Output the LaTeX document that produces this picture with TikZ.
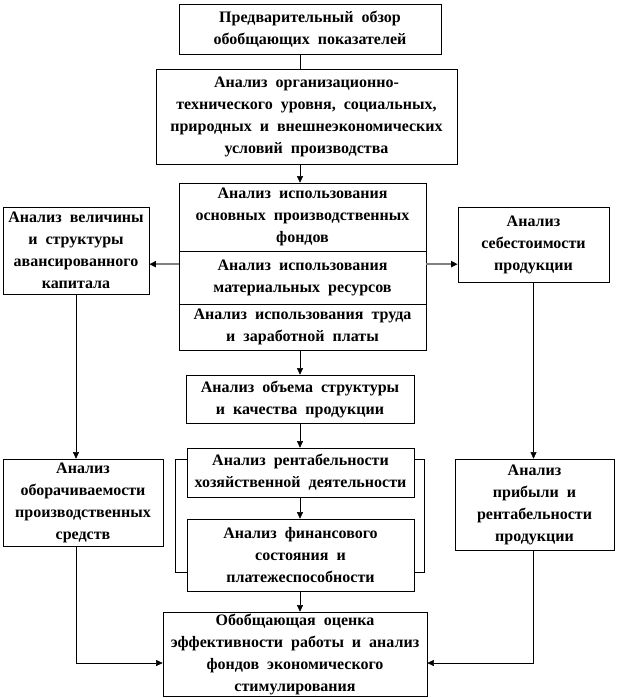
\documentclass[tikz,border=0pt]{standalone}
\usepackage{fontspec}
\setmainfont{Liberation Serif}
\usetikzlibrary{arrows.meta}
\newcommand\boxfont{\fontsize{12}{16.5}\selectfont\bfseries\spaceskip=0.5em plus 0.1em\relax}

\begin{document}
\begin{tikzpicture}[x=0.75pt, y=-0.75pt,
  box/.style={draw=black, fill=white, align=center, inner sep=0pt, font=\boxfont},
  arr/.style={-{Triangle[length=5pt,width=4.5pt]}, thin},
  side/.style={draw=gray, line width=1.3pt, -{Triangle[length=5pt,width=4.5pt,color=black]}}]
\useasboundingbox (0,0) rectangle (617,698);

\node[box, minimum width=196.5pt, minimum height=37.5pt] (top) at (310,29) {Предварительный обзор\\обобщающих показателей};
\node[box, minimum width=225.75pt, minimum height=71.25pt] (org) at (306.5,116.5) {Анализ организационно-\\технического уровня, социальных,\\природных и внешнеэкономических\\условий производства};

\node[box, minimum width=185.25pt, minimum height=51pt] (c1) at (302.5,217) {Анализ использования\\основных производственных\\фондов};
\node[box, minimum width=185.25pt, minimum height=39.75pt] (c2) at (302.5,277.5) {Анализ использования\\материальных ресурсов};
\node[box, minimum width=185.25pt, minimum height=34.5pt] (c3) at (302.5,327) {Анализ использования труда\\и заработной платы};

\node[box, minimum width=109.5pt, minimum height=65.25pt] (cap) at (76,250.5) {Анализ величины\\и структуры\\авансированного\\капитала};
\node[box, minimum width=113.25pt, minimum height=56.25pt] (cost) at (533.5,244.5) {Анализ\\себестоимости\\продукции};

\node[box, minimum width=171pt, minimum height=36pt] (vol) at (300,399) {Анализ объема структуры\\и качества продукции};

\draw[thin] (175,459) rectangle (424,572);
\node[box, minimum width=170.25pt, minimum height=36.75pt] (rent) at (300.5,472.5) {Анализ рентабельности\\хозяйственной деятельности};
\node[box, minimum width=170.25pt, minimum height=54pt] (fin) at (300.5,555) {Анализ финансового\\состояния и\\платежеспособности};

\node[box, minimum width=120pt, minimum height=65.25pt] (turn) at (83,502.5) {Анализ\\оборачиваемости\\производственных\\средств};
\node[box, minimum width=119.25pt, minimum height=68.25pt] (prof) at (534.5,504.5) {Анализ\\прибыли и\\рентабельности\\продукции};

\node[box, minimum width=198pt, minimum height=63pt] (final) at (295,654) {Обобщающая оценка\\эффективности работы и анализ\\фондов экономического\\стимулирования};

\draw[thin] (top.south -| vol.north) -- (org.north -| vol.north);
\draw[arr] (org.south -| vol.north) -- (c1.north -| vol.north);
\draw[arr] (c3.south -| vol.north) -- (vol.north);
\draw[arr] (vol.south) -- (rent.north -| vol.south);
\draw[arr] (rent.south -| vol.south) -- (fin.north -| vol.south);
\draw[arr] (fin.south -| vol.south) -- (final.north -| vol.south);

\draw[side] ([yshift=10pt]c2.west) -- ([yshift=10pt]c2.west -| cap.east);
\draw[side] ([yshift=10pt]c2.east) -- ([yshift=10pt]c2.east -| cost.west);

\draw[arr] (cap.south) -- (cap.south |- turn.north);
\draw[arr] (cost.south) -- (cost.south |- prof.north);
\draw[arr] (cap.south |- turn.south) |- ([yshift=-6.75pt]final.west);
\draw[arr] (cost.south |- prof.south) |- ([yshift=-6.75pt]final.east);
\end{tikzpicture}
\end{document}
